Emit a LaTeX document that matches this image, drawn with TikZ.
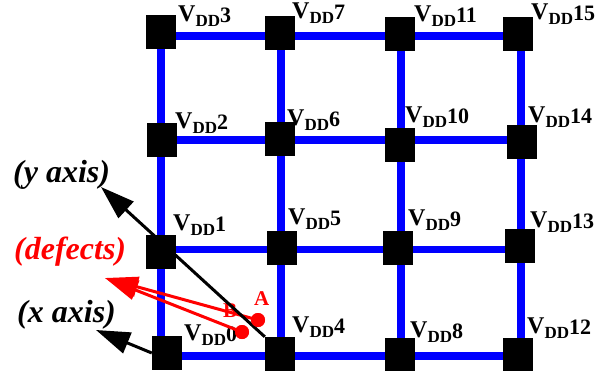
\documentclass[tikz,border=0pt]{standalone}
\usepackage{fontspec}
\setmainfont{Liberation Serif}
\usetikzlibrary{arrows.meta}

\definecolor{gridblue}{RGB}{0,0,255}
\definecolor{defred}{RGB}{255,0,0}

% V_DD pad name: large V, lowered DD, slightly lowered index
\newcommand{\vddname}[1]{V\raisebox{-5pt}{\fontsize{17}{17}\selectfont DD}\raisebox{-1.5pt}{\fontsize{22}{22}\selectfont #1}}

\begin{document}
\begin{tikzpicture}[x=1pt,y=-1pt,
  pad/.style={fill=black, draw=none, minimum width=30pt, minimum height=34pt, inner sep=0pt},
  wire/.style={draw=gridblue, line width=7.5pt},
  vdd/.style={anchor=base west, inner sep=0pt, font=\fontsize{24}{24}\selectfont\bfseries},
  axisarrow/.style={draw=black, line width=3pt, -{Triangle[length=34pt,width=22pt]}},
  defectarrow/.style={draw=defred, line width=3pt, -{Triangle[length=33pt,width=20pt]}},
  axlabel/.style={anchor=base west, inner sep=0pt, font=\fontsize{32}{32}\selectfont\bfseries\itshape},
  ptlabel/.style={anchor=base west, inner sep=0pt, text=defred, font=\fontsize{21}{21}\selectfont\bfseries},
  defectdot/.style={circle, fill=defred, minimum size=14pt, inner sep=0pt},
]
\useasboundingbox (0,0) rectangle (605,370);

% grid crossings (column c, row r)
\foreach \c/\x in {0/161,1/281,2/401,3/521}
  \foreach \r/\y in {0/356,1/249.5,2/140,3/36}
    \coordinate (g\c\r) at (\x,\y);

% power grid wires
\foreach \r in {0,1,2,3}
  \draw[wire] (g0\r) -- (g1\r) -- (g2\r) -- (g3\r);
\foreach \c in {0,1,2,3}
  \draw[wire] (g\c0) -- (g\c3);

% pads
\node[pad] (p0)  at (167,353) {};
\node[pad] (p1)  at (161,252) {};
\node[pad] (p2)  at (162,140) {};
\node[pad] (p3)  at (161,32)  {};
\node[pad] (p4)  at (280,354) {};
\node[pad] (p5)  at (282,248) {};
\node[pad] (p6)  at (280,139) {};
\node[pad] (p7)  at (280,33)  {};
\node[pad] (p8)  at (400,355) {};
\node[pad] (p9)  at (398,248) {};
\node[pad] (p10) at (400,145) {};
\node[pad] (p11) at (400,34)  {};
\node[pad] (p12) at (518,355) {};
\node[pad] (p13) at (520,246) {};
\node[pad] (p14) at (522,142) {};
\node[pad] (p15) at (518,34)  {};

% pad names
\node[vdd] (l0)  at (184,340) {\vddname{0}};
\node[vdd] (l1)  at (173,230) {\vddname{1}};
\node[vdd] (l2)  at (175,128) {\vddname{2}};
\node[vdd] (l3)  at (178,21)  {\vddname{3}};
\node[vdd] (l4)  at (292,332) {\vddname{4}};
\node[vdd] (l5)  at (288,224) {\vddname{5}};
\node[vdd] (l6)  at (287,125) {\vddname{6}};
\node[vdd] (l7)  at (292,18)  {\vddname{7}};
\node[vdd] (l8)  at (410,337) {\vddname{8}};
\node[vdd] (l9)  at (408,225) {\vddname{9}};
\node[vdd] (l10) at (405,122) {\vddname{10}};
\node[vdd] (l11) at (414,21)  {\vddname{11}};
\node[vdd] (l12) at (527,333) {\vddname{12}};
\node[vdd] (l13) at (530,227) {\vddname{13}};
\node[vdd] (l14) at (528,122) {\vddname{14}};
\node[vdd] (l15) at (531,19)  {\vddname{15}};

% axis and defect labels
\node[axlabel] (ylab) at (13,182) {(y axis)};
\node[axlabel, text=defred] (dlab) at (14,259) {(defects)};
\node[axlabel] (xlab) at (17,322) {(x axis)};

% defect points
\node[defectdot] (dA) at (258,320) {};
\node[defectdot] (dB) at (242,332) {};
\node[ptlabel] (labB) at (223,317) {B};

% arrow tips
\coordinate (ytip) at (101,187);
\coordinate (xtip) at (96,330);
\coordinate (dtip) at (105,278);

% defect arrows
\draw[defectarrow] (dA.center) -- (dtip);
\draw[defectarrow] (dB.center) -- (dtip);

% axes
\draw[axisarrow] (p4.north west) -- (ytip);
\draw[axisarrow] (p0.west) -- (xtip);

% defect dots on top
\fill[defred] (dA) circle (7pt);
\fill[defred] (dB) circle (7pt);
\node[ptlabel] (labA) at (254,305) {A};
\end{tikzpicture}
\end{document}
